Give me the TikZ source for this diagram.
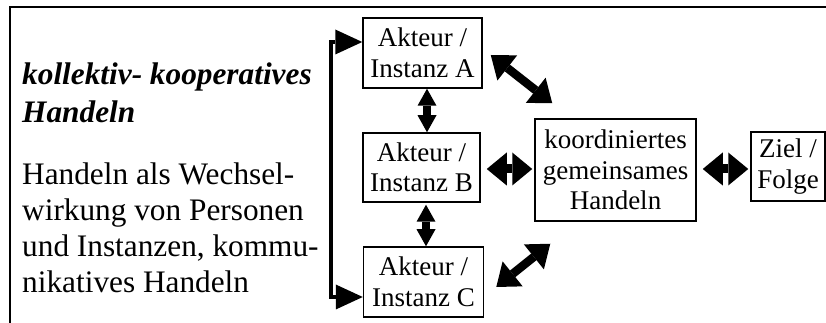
\documentclass[tikz,border=0pt]{standalone}
\usepackage{fontspec}
\setmainfont{Liberation Serif}
\usetikzlibrary{arrows.meta,calc}
\tikzset{
  box/.style={draw, line width=1.5pt, inner sep=0pt, align=center,
    font=\fontsize{27}{30.5}\selectfont},
  lefttext/.style={anchor=base west, inner sep=0pt, align=left},
  vdbl/.style={line width=8pt,
    {Triangle[length=17pt,width=19pt,line width=0pt]}-{Triangle[length=17pt,width=19pt,line width=0pt]}},
  hdbl/.style={line width=9pt,
    {Triangle[length=20pt,width=33pt,line width=0pt]}-{Triangle[length=20pt,width=33pt,line width=0pt]}},
  ddbl/.style={line width=8.5pt,
    {Triangle[length=21pt,width=32pt,line width=0pt]}-{Triangle[length=21pt,width=32pt,line width=0pt]}},
  bracket/.style={line width=4.5pt,
    {Triangle[length=27pt,width=25pt,line width=0pt]}-{Triangle[length=27pt,width=25pt,line width=0pt]}},
  frame/.style={line width=2pt}
}
\begin{document}
\begin{tikzpicture}[x=1pt,y=1pt]
\useasboundingbox (0,0) rectangle (826,323);
% outer frame (only left and top edges visible)
\draw[frame] (10,-10) -- (10,316) -- (840,316);
% left text (base anchor = baseline of last line)
\node[lefttext, font=\fontsize{31.3}{38}\selectfont\bfseries\itshape] (title) at (22,200)
  {kollektiv- kooperatives\\Handeln};
\node[lefttext, font=\fontsize{31.3}{36.3}\selectfont] (body) at (22,30)
  {Handeln als Wechsel-\\wirkung von Personen\\und Instanzen, kommu-\\nikatives Handeln};
% boxes
\node[box, minimum width=119pt, minimum height=70pt] (A) at (422.5,270) {Akteur /\\Instanz A};
\node[box, minimum width=117pt, minimum height=69pt] (B) at (421.5,155.5) {Akteur /\\Instanz B};
\node[box, minimum width=120pt, minimum height=70pt] (C) at (423.5,41) {Akteur /\\Instanz C};
\node[box, minimum width=161pt, minimum height=102pt] (K) at (615.5,153) {koordiniertes\\gemeinsames\\Handeln};
\node[box, minimum width=74pt, minimum height=69pt] (Z) at (788,156.5) {Ziel /\\Folge};
% bracket
\coordinate (bt) at (331,281);
\coordinate (bb) at (331,26);
\draw[bracket] (A.west |- bt) -- (bt) -- (bb) -- (C.west |- bb);
% arrows
\draw[vdbl] ($(A.south)+(4.5,0)$) -- ($(B.north)+(5.5,0)$);
\draw[vdbl] ($(B.south)+(4.5,-2)$) -- ($(C.north)+(2.5,0)$);
\draw[hdbl] ($(B.east)+(6,-1.5)$) -- ($(K.west)+(-2,1)$);
\draw[hdbl] ($(K.east)+(6,1)$) -- ($(Z.west)+(-2,-2.5)$);
\draw[ddbl] ($(A.east)+(8,-2)$) -- ($(K.north west)+(18,15)$);
\draw[ddbl] ($(C.east)+(12,-5)$) -- ($(K.south west)+(16,-22)$);
\end{tikzpicture}
\end{document}
